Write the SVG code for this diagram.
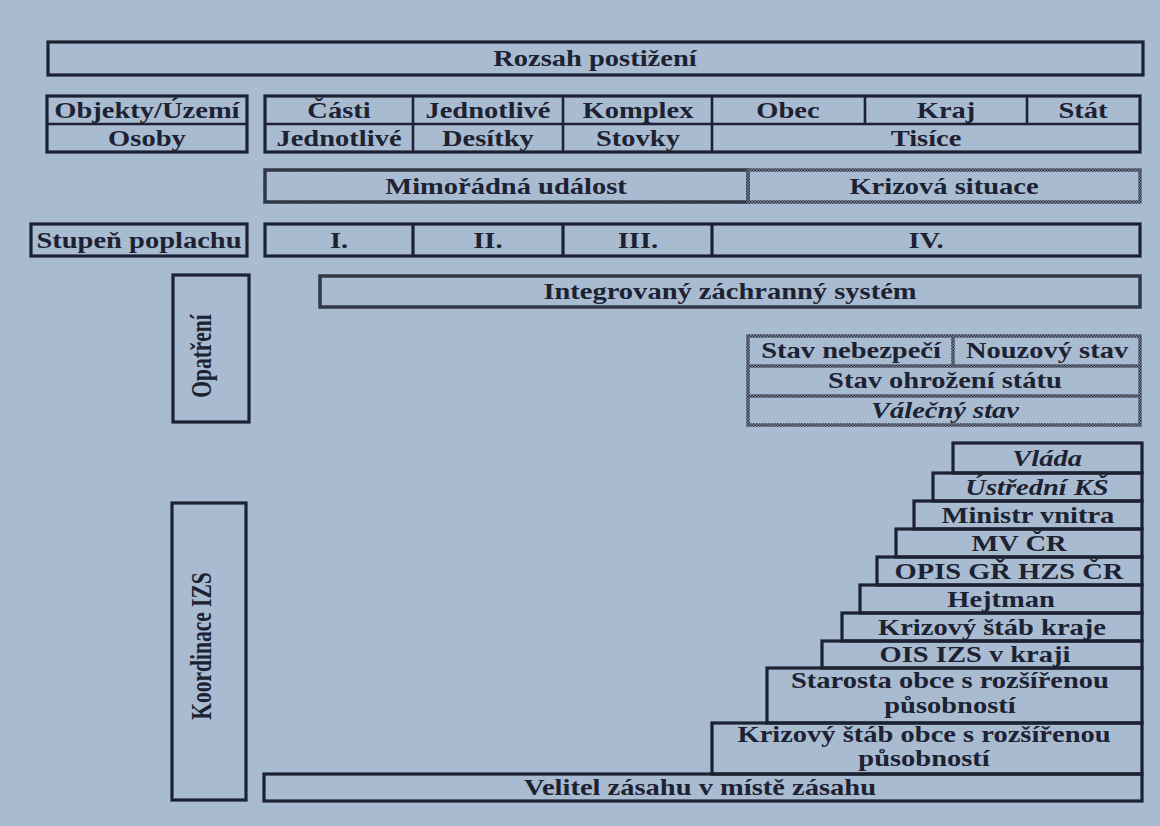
<svg xmlns="http://www.w3.org/2000/svg" width="1160" height="826" viewBox="0 0 1160 826">
<defs>
<pattern id="chk" width="3" height="3" patternUnits="userSpaceOnUse">
<rect width="3" height="3" fill="#7f8a9c"/>
<rect width="1.5" height="1.5" fill="#262c3b"/>
<rect x="1.5" y="1.5" width="1.5" height="1.5" fill="#262c3b"/>
</pattern>
<pattern id="chkd" width="3" height="3" patternUnits="userSpaceOnUse">
<rect width="3" height="3" fill="#444b5a"/>
<rect width="1.5" height="1.5" fill="#1c2232"/>
<rect x="1.5" y="1.5" width="1.5" height="1.5" fill="#1c2232"/>
</pattern>
<style>
.b{fill:none;stroke:#1c2232;stroke-width:3.2}
.l{stroke:#1c2232;stroke-width:2.6}
.c{fill:none;stroke:url(#chk);stroke-width:3.5}
.cd{fill:none;stroke:url(#chkd);stroke-width:3.5}
.t{font-family:"Liberation Serif","Times New Roman",serif;font-weight:bold;font-size:23px;fill:#1c2232;text-anchor:middle}
.i{font-style:italic}
.v{font-family:"Liberation Serif","Times New Roman",serif;font-weight:bold;font-size:21.5px;fill:#1c2232;text-anchor:middle}
</style>
</defs>
<rect width="1160" height="826" fill="#a9bbd0"/>

<g id="rozsah">
<rect class="b" x="48" y="42" width="1095" height="33"/>
<text class="t" transform="scale(1.24 1)" x="479.8" y="66">Rozsah postižení</text>
</g>

<g id="left-table">
<rect class="b" x="47" y="96" width="200" height="56"/>
<line class="l" x1="47" y1="124" x2="247" y2="124"/>
<g transform="scale(1.24 1)">
<text class="t" x="118.5" y="118">Objekty/Území</text>
<text class="t" x="118.5" y="146">Osoby</text>
</g>
</g>

<g id="scale-table">
<rect class="b" x="265" y="96" width="875" height="56"/>
<line class="l" x1="265" y1="124" x2="1140" y2="124"/>
<line class="l" x1="413" y1="96" x2="413" y2="152"/>
<line class="l" x1="563" y1="96" x2="563" y2="152"/>
<line class="l" x1="712" y1="96" x2="712" y2="152"/>
<line class="l" x1="865" y1="96" x2="865" y2="124"/>
<line class="l" x1="1027" y1="96" x2="1027" y2="124"/>
<g transform="scale(1.24 1)">
<text class="t" x="273.4" y="118">Části</text>
<text class="t" x="393.5" y="118">Jednotlivé</text>
<text class="t" x="514.5" y="118">Komplex</text>
<text class="t" x="635.5" y="118">Obec</text>
<text class="t" x="762.9" y="118">Kraj</text>
<text class="t" x="873.4" y="118">Stát</text>
<text class="t" x="273.4" y="146">Jednotlivé</text>
<text class="t" x="393.5" y="146">Desítky</text>
<text class="t" x="514.5" y="146">Stovky</text>
<text class="t" x="746.8" y="146">Tisíce</text>
</g>
</g>

<g id="mimoradna-udalost">
<rect class="cd" x="265" y="170" width="483" height="32"/>
<text class="t" transform="scale(1.24 1)" x="408.1" y="194">Mimořádná událost</text>
</g>
<g id="krizova-situace">
<rect class="c" x="748" y="170" width="392" height="32"/>
<text class="t" transform="scale(1.24 1)" x="761.3" y="194">Krizová situace</text>
</g>

<g id="stupen-poplachu">
<rect class="b" x="31" y="224" width="216" height="32"/>
<text class="t" transform="scale(1.24 1)" x="112.1" y="248">Stupeň poplachu</text>
</g>
<g id="stupne">
<rect class="b" x="265" y="224" width="875" height="32"/>
<line class="b" x1="413" y1="224" x2="413" y2="256"/>
<line class="b" x1="563" y1="224" x2="563" y2="256"/>
<line class="b" x1="712" y1="224" x2="712" y2="256"/>
<g transform="scale(1.24 1)">
<text class="t" x="273.4" y="248">I.</text>
<text class="t" x="393.5" y="248">II.</text>
<text class="t" x="514.5" y="248">III.</text>
<text class="t" x="746.8" y="248">IV.</text>
</g>
</g>

<g id="opatreni">
<rect class="b" x="173" y="275" width="76" height="147"/>
<text class="v" transform="translate(201 356) rotate(-90) scale(1 1.4)" x="0" y="7">Opatření</text>
</g>

<g id="izs">
<rect class="cd" x="320" y="276" width="820" height="31"/>
<text class="t" transform="scale(1.24 1)" x="588.7" y="299">Integrovaný záchranný systém</text>
</g>

<g id="stavy">
<rect class="c" x="748" y="336" width="392" height="89"/>
<line class="c" x1="748" y1="366" x2="1140" y2="366"/>
<line class="c" x1="748" y1="396" x2="1140" y2="396"/>
<line class="c" x1="953" y1="336" x2="953" y2="366"/>
<g transform="scale(1.24 1)">
<text class="t" x="686.3" y="358">Stav nebezpečí</text>
<text class="t" x="844.4" y="358">Nouzový stav</text>
<text class="t" x="762.1" y="388">Stav ohrožení státu</text>
<text class="t i" x="762.1" y="418">Válečný stav</text>
</g>
</g>

<g id="koordinace">
<rect class="b" x="172" y="503" width="74" height="297"/>
<text class="v" transform="translate(201 646) rotate(-90) scale(1 1.4)" x="0" y="7">Koordinace IZS</text>
</g>

<g id="vlada"><rect class="b" x="953" y="443" width="189" height="30"/><text class="t i" transform="scale(1.24 1)" x="844.4" y="466">Vláda</text></g>
<g id="ustredni-ks"><rect class="b" x="933" y="473" width="209" height="28"/><text class="t i" transform="scale(1.24 1)" x="836.3" y="495">Ústřední KŠ</text></g>
<g id="ministr"><rect class="b" x="914" y="501" width="228" height="28"/><text class="t" transform="scale(1.24 1)" x="829" y="523">Ministr vnitra</text></g>
<g id="mv-cr"><rect class="b" x="896" y="529" width="246" height="28"/><text class="t" transform="scale(1.24 1)" x="821.8" y="551">MV ČR</text></g>
<g id="opis"><rect class="b" x="877" y="557" width="265" height="28"/><text class="t" transform="scale(1.24 1)" x="813.7" y="579">OPIS GŘ HZS ČR</text></g>
<g id="hejtman"><rect class="b" x="860" y="585" width="282" height="28"/><text class="t" transform="scale(1.24 1)" x="807.3" y="607">Hejtman</text></g>
<g id="ks-kraje"><rect class="b" x="842" y="613" width="300" height="28"/><text class="t" transform="scale(1.24 1)" x="800" y="635">Krizový štáb kraje</text></g>
<g id="ois-izs"><rect class="b" x="822" y="641" width="320" height="27"/><text class="t" transform="scale(1.24 1)" x="786.3" y="662">OIS IZS v kraji</text></g>
<g id="starosta"><rect class="b" x="767" y="668" width="375" height="55"/><g transform="scale(1.24 1)"><text class="t" x="766.1" y="688">Starosta obce s rozšířenou</text><text class="t" x="766.1" y="713">působností</text></g></g>
<g id="ks-obce"><rect class="b" x="712" y="723" width="430" height="51"/><g transform="scale(1.24 1)"><text class="t" x="745.2" y="742">Krizový štáb obce s rozšířenou</text><text class="t" x="745.2" y="766">působností</text></g></g>
<g id="velitel"><rect class="b" x="264" y="774" width="878" height="27"/><text class="t" transform="scale(1.24 1)" x="564.5" y="795">Velitel zásahu v místě zásahu</text></g>
</svg>
